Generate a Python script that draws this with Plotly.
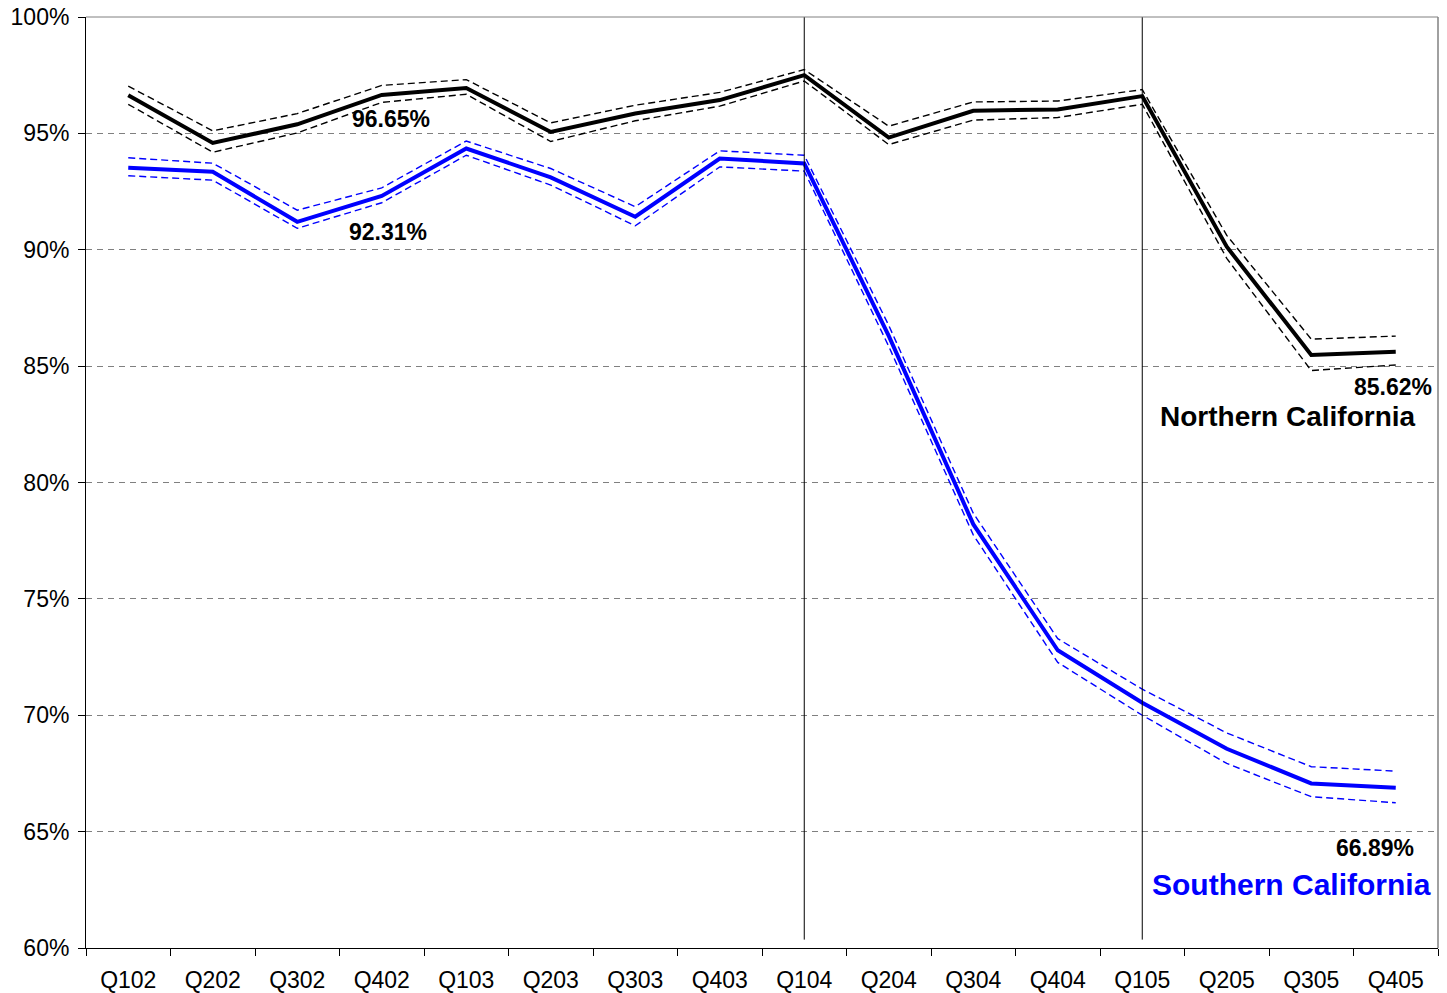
import plotly.graph_objects as go

# --- Data (percent) ---
quarters = ["Q102", "Q202", "Q302", "Q402", "Q103", "Q203", "Q303", "Q403",
            "Q104", "Q204", "Q304", "Q404", "Q105", "Q205", "Q305", "Q405"]

north = [96.64, 94.59, 95.39, 96.65, 96.95, 95.06, 95.85, 96.43,
         97.50, 94.82, 95.97, 96.03, 96.60, 90.13, 85.48, 85.62]
north_upper = [97.03, 95.11, 95.85, 97.06, 97.31, 95.45, 96.21, 96.76,
               97.74, 95.31, 96.35, 96.39, 96.88, 90.62, 86.16, 86.29]
north_lower = [96.25, 94.19, 95.02, 96.33, 96.68, 94.65, 95.54, 96.17,
               97.25, 94.52, 95.57, 95.68, 96.25, 89.63, 84.81, 85.05]

south = [93.52, 93.35, 91.20, 92.31, 94.35, 93.11, 91.42, 93.92,
         93.71, 86.30, 78.21, 72.79, 70.54, 68.56, 67.07, 66.89]
south_upper = [93.95, 93.72, 91.70, 92.66, 94.67, 93.49, 91.85, 94.25,
               94.06, 86.75, 78.68, 73.29, 71.12, 69.24, 67.79, 67.60]
south_lower = [93.18, 92.99, 90.92, 92.02, 94.06, 92.78, 91.03, 93.56,
               93.38, 85.85, 77.75, 72.27, 70.00, 67.93, 66.50, 66.24]

y_ticks = [60, 65, 70, 75, 80, 85, 90, 95, 100]
period_marks = ["Q104", "Q105"]

BLUE = "#0000FF"
FONT = "Liberation Sans, Arial, sans-serif"

fig = go.Figure()

# bounds (thin dashed) then main series
for vals, color in [(north_upper, "black"), (north_lower, "black"),
                    (south_upper, BLUE), (south_lower, BLUE)]:
    fig.add_trace(go.Scatter(x=quarters, y=vals, mode="lines",
                             line=dict(color=color, width=1.4, dash="7px,4px"),
                             showlegend=False, hoverinfo="skip"))

fig.add_trace(go.Scatter(x=quarters, y=north, mode="lines", name="Northern California",
                         line=dict(color="black", width=4), showlegend=False))
fig.add_trace(go.Scatter(x=quarters, y=south, mode="lines", name="Southern California",
                         line=dict(color=BLUE, width=4), showlegend=False))

# vertical period separators
for q in period_marks:
    fig.add_shape(type="line", xref="x", yref="paper", x0=q, x1=q, y0=0.009, y1=1,
                  line=dict(color="black", width=1))

# top / right frame in gray
fig.add_shape(type="line", xref="paper", yref="paper", x0=0, x1=1, y0=1, y1=1,
              line=dict(color="#808080", width=1))
fig.add_shape(type="line", xref="paper", yref="paper", x0=1, x1=1, y0=0, y1=1,
              line=dict(color="#808080", width=1.5))

# value labels
lbl = dict(showarrow=False, font=dict(family=FONT, size=23, color="black", weight="bold"))
fig.add_annotation(x=quarters[3], y=north[3], text=f"{north[3]:.2f}%", xshift=9, yshift=-24, **lbl)
fig.add_annotation(x=quarters[3], y=south[3], text=f"{south[3]:.2f}%", xshift=6, yshift=-36, **lbl)
fig.add_annotation(x=quarters[-1], y=north[-1], text=f"{north[-1]:.2f}%", xshift=-3, yshift=-35, **lbl)
fig.add_annotation(x=quarters[-1], y=south[-1], text=f"{south[-1]:.2f}%", xshift=-21, yshift=-60, **lbl)

# series names
fig.add_annotation(xref="paper", yref="paper", x=0.889, y=0.571, xanchor="center", yanchor="middle",
                   text="Northern California", showarrow=False,
                   font=dict(family=FONT, size=28, color="black", weight="bold"))
fig.add_annotation(xref="paper", yref="paper", x=0.892, y=0.0687, xanchor="center", yanchor="middle",
                   text="Southern California", showarrow=False,
                   font=dict(family=FONT, size=30, color=BLUE, weight="bold"))

# page body adds an 8px margin, so the figure is sized/margined to land on the same pixels
fig.update_layout(
    width=1431, height=985,
    margin=dict(l=78, r=1, t=9, b=45),
    plot_bgcolor="white", paper_bgcolor="white",
    font=dict(family=FONT, size=23, color="black"),
    xaxis=dict(type="category", categoryorder="array", categoryarray=quarters,
               showgrid=False, showline=True, linecolor="black", linewidth=1,
               ticks="outside", tickson="boundaries", ticklen=7, tickcolor="black",
               ticklabelstandoff=11, automargin=False,
               range=[-0.5, len(quarters) - 0.5], zeroline=False),
    yaxis=dict(range=[60, 100], tickvals=y_ticks, ticktext=[f"{v}%" for v in y_ticks],
               showgrid=True, gridcolor="#808080", griddash="6px,5px", gridwidth=1,
               showline=True, linecolor="black", linewidth=1, automargin=False,
               ticks="outside", ticklen=7, tickcolor="black", ticklabelstandoff=4,
               ticklabeloverflow="allow", zeroline=False),
)

fig.write_html("out.html")
